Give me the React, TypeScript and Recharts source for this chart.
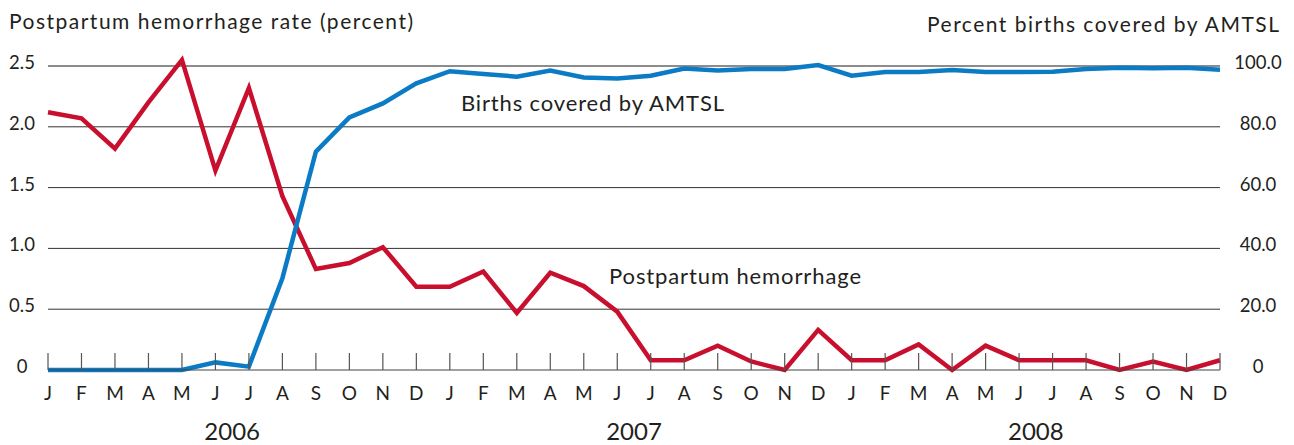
import { CartesianGrid, Line, LineChart, ReferenceLine, XAxis, YAxis } from 'recharts'

const MONTHS = ['J', 'F', 'M', 'A', 'M', 'J', 'J', 'A', 'S', 'O', 'N', 'D']
const YEARS = ['2006', '2007', '2008']

// postpartum hemorrhage rate, percent (left axis)
const PPH = [
  2.12, 2.07, 1.82, 2.2, 2.55, 1.64, 2.32, 1.43, 0.83, 0.88, 1.01, 0.685,
  0.685, 0.81, 0.47, 0.8, 0.69, 0.48, 0.08, 0.08, 0.2, 0.07, 0.0, 0.33,
  0.08, 0.08, 0.21, 0.0, 0.2, 0.08, 0.08, 0.08, 0.0, 0.07, 0.0, 0.08,
]

// births covered by AMTSL, percent (right axis)
const AMTSL = [
  0, 0, 0, 0, 0, 2.5, 1.1, 30.2, 71.8, 83.1, 87.7, 94.3,
  98.3, 97.4, 96.5, 98.5, 96.2, 95.9, 96.8, 99.2, 98.5, 99.0, 99.0, 100.3,
  96.8, 98.0, 98.0, 98.7, 98.0, 98.0, 98.1, 99.0, 99.4, 99.3, 99.4, 98.8,
]

const LEFT_TICKS = [0, 0.5, 1.0, 1.5, 2.0, 2.5]
const RIGHT_TICKS = [0, 20, 40, 60, 80, 100]

const RED = '#C8102E'
const BLUE = '#0A7BC4'
const INK = '#231F20'
const FONT = 'Lato, "Open Sans", sans-serif'

const data = PPH.map((v, i) => ({
  period: `${YEARS[Math.floor(i / 12)]}-${i % 12}`,
  pph: v,
  amtsl: AMTSL[i],
}))

const MonthTick = (props: any) => {
  const { x, y, payload } = props
  const i = payload.index as number
  const m = i % 12
  return (
    <g>
      <line x1={x} x2={x} y1={y} y2={y - 17} stroke="#555" strokeWidth={1.2} />
      <text x={x} y={y + 30} textAnchor="middle" fill={INK} fontSize={19} fontFamily={FONT}>
        {MONTHS[m]}
      </text>
      {m === 5 && (
        <text x={x + 16.75} y={y + 70} textAnchor="middle" fill={INK} fontSize={24} fontFamily={FONT}>
          {YEARS[Math.floor(i / 12)]}
        </text>
      )}
    </g>
  )
}

const ValueTick = (props: any) => {
  const { x, y, payload } = props
  const v = payload.value as number
  return (
    <text x={x} y={y + 3} textAnchor="middle" fill={INK} fontSize={18.5} fontFamily={FONT}>
      {v === 0 ? '0' : v.toFixed(1)}
    </text>
  )
}

export default function App() {
  return (
    <div style={{ position: 'relative', width: 1294, height: 445, background: '#fff' }}>
      <style>{'body{margin:0}'}</style>
      <LineChart
        width={1294}
        height={445}
        data={data}
        margin={{ top: 53.84, right: 0, left: 0, bottom: 0 }}
      >
        <CartesianGrid vertical={false} horizontal={false} />
        <XAxis
          dataKey="period"
          height={75}
          interval={0}
          tickSize={0}
          tickMargin={0}
          tick={<MonthTick />}
          axisLine={{ stroke: '#444', strokeWidth: 1.2 }}
          tickLine={false}
        />
        <YAxis
          yAxisId="left"
          width={48}
          domain={[0, 2.6]}
          ticks={LEFT_TICKS}
          tickSize={0}
          tickMargin={26}
          tick={<ValueTick />}
          axisLine={false}
          tickLine={false}
        />
        <YAxis
          yAxisId="right"
          orientation="right"
          width={74}
          domain={[0, 104]}
          ticks={RIGHT_TICKS}
          tickSize={0}
          tickMargin={38}
          tick={<ValueTick />}
          axisLine={false}
          tickLine={false}
        />
        {LEFT_TICKS.filter((t) => t > 0).map((t) => (
          <ReferenceLine
            key={t}
            yAxisId="left"
            y={t}
            stroke={t === 2.5 ? '#8c8c8c' : '#333'}
            strokeWidth={t === 2.5 ? 1.8 : 1}
          />
        ))}
        <Line
          yAxisId="left"
          dataKey="pph"
          stroke={RED}
          strokeWidth={4.5}
          dot={false}
          activeDot={false}
          isAnimationActive={false}
        />
        <Line
          yAxisId="right"
          dataKey="amtsl"
          stroke={BLUE}
          strokeWidth={4.5}
          dot={false}
          activeDot={false}
          isAnimationActive={false}
        />
      </LineChart>
      <svg
        width={1294}
        height={445}
        style={{ position: 'absolute', left: 0, top: 0, pointerEvents: 'none' }}
        fontFamily={FONT}
        fill={INK}
      >
        <text x={9} y={29} fontSize={21} textLength={404} lengthAdjust="spacing">
          Postpartum hemorrhage rate (percent)
        </text>
        <text x={927} y={32} fontSize={21} textLength={352} lengthAdjust="spacing">
          Percent births covered by AMTSL
        </text>
        <text x={461} y={111} fontSize={22} textLength={263} lengthAdjust="spacing">
          Births covered by AMTSL
        </text>
        <text x={609} y={284} fontSize={22} textLength={252} lengthAdjust="spacing">
          Postpartum hemorrhage
        </text>
      </svg>
    </div>
  )
}
